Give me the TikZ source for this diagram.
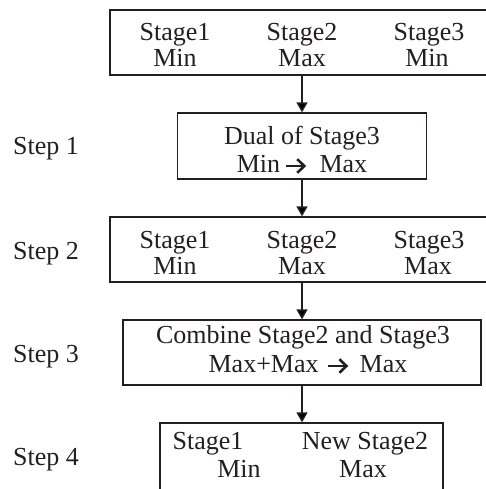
\documentclass[tikz,border=0pt]{standalone}
\usepackage{fontspec}
\setmainfont{Liberation Serif}
\usetikzlibrary{arrows.meta}
\definecolor{ink}{HTML}{231F20}
\newcommand{\thickarr}{\tikz[baseline=-6pt,x=1pt,y=1pt]{\draw[ink,line width=2.6pt] (0,0) -- (18,0); \draw[ink,line width=2.6pt,miter limit=10] (11.5,6.8) -- (18.5,0) -- (11.5,-6.8);}}
\begin{document}
\begin{tikzpicture}[x=1pt,y=-1pt,
  box/.style={draw=ink,line width=1.3pt,rectangle,inner sep=0pt},
  txt/.style={anchor=base,inner sep=0pt,text=ink,font=\fontsize{26}{29}\selectfont},
  lbl/.style={anchor=base west,inner sep=0pt,text=ink,font=\fontsize{26}{29}\selectfont},
  arr/.style={draw=ink,line width=1.5pt,-{Triangle[length=10pt,width=11pt]}}]
\useasboundingbox (0,0) rectangle (486,489);
% boxes
\node[box,minimum width=380pt,minimum height=65pt] (b1) at (300,42.5) {};
\node[box,minimum width=249pt,minimum height=66pt] (b2) at (302,146) {};
\node[box,minimum width=380pt,minimum height=65pt] (b3) at (300,249.5) {};
\node[box,minimum width=358pt,minimum height=65pt] (b4) at (302,352.5) {};
\node[box,minimum width=283pt,minimum height=72pt] (b5) at (301.5,459) {};
% box 1 text
\node[txt] (t11) at (175,41) {Stage1};
\node[txt] (t12) at (302,41) {Stage2};
\node[txt] (t13) at (429,41) {Stage3};
\node[txt] (t14) at (175,67) {Min};
\node[txt] (t15) at (302,67) {Max};
\node[txt] (t16) at (427,67) {Min};
% box 2 text
\node[txt] (t21) at (302,145) {Dual of Stage3};
\node[txt] (t22) at (302,172) {Min\,\thickarr\hspace{14pt}Max};
% box 3 text
\node[txt] (t31) at (175,248) {Stage1};
\node[txt] (t32) at (302,248) {Stage2};
\node[txt] (t33) at (429,248) {Stage3};
\node[txt] (t34) at (175,274) {Min};
\node[txt] (t35) at (302,274) {Max};
\node[txt] (t36) at (428,274) {Max};
% box 4 text
\node[txt] (t41) at (303,343) {Combine Stage2 and Stage3};
\node[txt] (t42) at (308,372) {Max+Max\hspace{8pt}\thickarr\hspace{12pt}Max};
% box 5 text
\node[txt] (t51) at (208,449) {Stage1};
\node[txt] (t52) at (365,449) {New Stage2};
\node[txt] (t53) at (239,477) {Min};
\node[txt] (t54) at (363,477) {Max};
% step labels
\node[lbl] (s1) at (13,154) {Step 1};
\node[lbl] (s2) at (13,259) {Step 2};
\node[lbl] (s3) at (13,362) {Step 3};
\node[lbl] (s4) at (13,465) {Step 4};
% arrows
\draw[arr] (b2.north |- b1.south) -- (b2.north);
\draw[arr] (b2.south) -- (b2.south |- b3.north);
\draw[arr] (b4.north |- b3.south) -- (b4.north);
\draw[arr] (b4.south) -- (b4.south |- b5.north);
\end{tikzpicture}
\end{document}
